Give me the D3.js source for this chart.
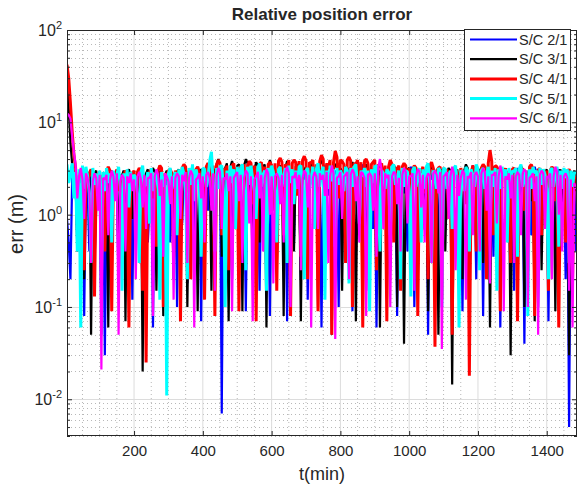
<!DOCTYPE html>
<html>
<head>
<meta charset="utf-8">
<script src="https://cdn.jsdelivr.net/npm/d3@7"></script>
<style>
  body { margin: 0; background: #fff; }
  text { font-family: "Liberation Sans", Arial, Helvetica, sans-serif; fill: #262626; }
</style>
</head>
<body>
<svg id="chart" width="579" height="488"></svg>
<script>
// sample times (min), one sample every 5 min
var times = d3.range(5, 1490, 5);

var seriesNames = ["S/C 2/1", "S/C 3/1", "S/C 4/1", "S/C 5/1", "S/C 6/1"];
var seriesColors = ["#0000ff", "#000000", "#ff0000", "#00ffff", "#ff00ff"];
var seriesWidths = [2.2, 2.2, 3, 3, 2.2];

// error values (m), one row per 100 min
var err21 = [
  0.9, 0.5, 0.2, 2.4, 3, 1.9, 0.6, 2.8, 2.2, 2.6, 0.08, 2.3, 1.8, 0.4, 2.5, 2.9, 0.3, 1.2, 2, 2.7,
  0.05, 2.6, 0.03, 1.5, 2.4, 2.9, 0.7, 2.2, 2.8, 2.5, 0.15, 2.7, 2.2, 3, 0.4, 1.9, 2.6, 2.8, 0.12, 2.4,
  2.5, 2.8, 0.9, 2.1, 0.09, 2.6, 2.7, 0.5, 1.2, 2.9, 0.06, 2.2, 2.4, 1.4, 3, 2.7, 0.25, 2.5, 2.1, 2.8,
  0.5, 2.3, 2.6, 2.9, 0.1, 2.4, 1.8, 0.8, 2.9, 2.6, 0.18, 3.1, 2.5, 2.2, 0.6, 2.7, 2.8, 2.5, 0.07, 2.6,
  2.3, 3, 1.1, 2.5, 3.2, 2.8, 0.3, 2.4, 2.6, 3.1, 0.007, 2.7, 2.8, 0.9, 1.5, 2.6, 0.2, 2.4, 3, 2.7,
  0.4, 2.9, 2.7, 2.5, 0.09, 2.8, 2.4, 3.3, 3.1, 2.2, 0.6, 2.7, 0.15, 2.5, 2.9, 0.7, 1.8, 2.6, 0.08, 2.9,
  2.6, 2.9, 0.3, 2.7, 3.3, 2.5, 1.2, 2.8, 0.07, 2.6, 2.8, 1.9, 0.5, 2.7, 3, 2.4, 0.2, 2.9, 2.4, 3.1,
  0.12, 2.8, 3.1, 2.6, 0.9, 3, 2.7, 2.9, 0.06, 2.5, 3.4, 2.8, 1.6, 2.9, 0.35, 2.6, 3, 2.7, 0.1, 3.2,
  2.8, 3, 0.5, 2.6, 3.2, 2.7, 0.09, 2.9, 2.4, 0.8, 1.3, 2.7, 3.5, 3.1, 0.15, 2.6, 2.9, 2.5, 0.7, 2.8,
  0.06, 2.7, 3, 2.4, 1.1, 2.9, 2.6, 2.8, 0.25, 2.7, 3.2, 2.5, 0.08, 2.9, 2.5, 3.1, 1.7, 2.6, 0.4, 2.8,
  3.3, 2.9, 0.1, 2.6, 2.7, 3.1, 0.8, 2.5, 3, 2.8, 0.05, 2.7, 2.4, 3.2, 1.9, 2.6, 0.3, 2.8, 3.1, 2.5,
  0.7, 2.7, 2.8, 3, 0.12, 2.6, 3.2, 2.4, 1.4, 2.8, 0.09, 2.5, 2.9, 2.2, 0.5, 2.9, 3.4, 2.7, 0.2, 2.8,
  2.6, 2.9, 0.08, 2.7, 3.1, 2.5, 1.2, 2.8, 0.35, 2.6, 2.8, 3, 0.06, 2.7, 3, 2.4, 0.9, 2.8, 2.5, 2.9,
  0.15, 2.6, 3.2, 2.8, 1.6, 2.5, 0.04, 2.7, 2.7, 2.9, 0.6, 2.6, 3.3, 2.8, 0.1, 2.5, 2.4, 2.9, 1.1, 2.7,
  0.07, 2.6, 2.9, 2.5, 0.3, 2.8, 3.1, 2.4, 1.5, 2.7, 0.2, 2.3, 0.005, 2.1, 2.2, 2.6, 0.4
];
var err31 = [
  27, 14, 6, 3.5, 2.5, 2.8, 0.4, 2.6, 3, 2.7, 0.2, 2.5, 2.4, 2.9, 0.05, 2.6, 2.8, 3, 1.2, 2.7,
  0.1, 2.5, 2.6, 2.9, 0.06, 2.7, 3, 2.4, 1.5, 2.8, 0.3, 2.6, 2.7, 3, 0.07, 2.8, 3.1, 2.6, 0.9, 2.7,
  2.5, 2.9, 0.4, 2.7, 0.02, 2.6, 2.8, 3.1, 1.1, 2.7, 3.2, 2.9, 0.15, 2.6, 2.6, 2.8, 0.08, 2.7, 3, 2.5,
  1.3, 2.8, 0.2, 2.6, 2.9, 3.1, 0.5, 2.8, 3.3, 2.9, 0.1, 2.7, 2.4, 3, 1.7, 2.6, 0.09, 2.9, 3.1, 2.8,
  0.6, 3.2, 3.6, 3.3, 0.15, 3.1, 2.8, 3.5, 4, 3.4, 0.35, 3, 3.2, 3.6, 0.07, 3.3, 3.8, 3.2, 1.4, 3.4,
  3.5, 3.2, 0.09, 3.4, 4, 3.6, 1.1, 3.3, 0.2, 3.1, 3.7, 3.4, 0.5, 3.2, 3.3, 3.5, 0.06, 3.3, 3.9, 3.4,
  1.5, 3.1, 0.25, 3.3, 3.4, 3, 0.08, 3.2, 3.8, 3.4, 1, 3.1, 0.4, 3.3, 3.5, 3.2, 0.07, 3, 3.1, 3.3,
  0.3, 3.2, 3.6, 3.3, 1.3, 3, 0.1, 3.4, 3.9, 3.5, 0.6, 3.1, 3.2, 3.3, 0.05, 3.1, 3.4, 3.6, 1.8, 3.2,
  0.15, 3.1, 3.3, 3, 0.5, 3.2, 3.7, 3.3, 0.07, 3.1, 2.9, 3.2, 1.2, 3, 3.5, 3.3, 0.2, 3.1, 3, 3.2,
  0.8, 3, 0.06, 2.9, 3.2, 3, 1.6, 3.1, 0.3, 3.2, 3.5, 3.1, 0.1, 2.9, 2.8, 3, 0.04, 2.8, 3.1, 3.2,
  1.4, 3, 3.3, 3.1, 0.2, 2.8, 2.9, 3.1, 0.7, 3, 0.09, 2.9, 3.4, 3.1, 1.1, 3, 0.05, 2.8, 3, 3.2,
  0.4, 2.9, 3.2, 3, 0.0145, 2.8, 2.7, 3.1, 1.5, 2.9, 0.2, 3, 3.5, 3.2, 0.08, 2.9, 2.9, 3.1, 1.2, 2.8,
  3.1, 2.8, 0.3, 2.7, 2.6, 3, 0.06, 2.9, 3.3, 3.1, 0.9, 2.8, 0.15, 2.7, 2.8, 3, 1.3, 2.9, 0.03, 2.7,
  2.9, 3.1, 0.5, 2.8, 3.4, 3, 0.1, 2.9, 2.7, 3.2, 1.4, 2.9, 0.07, 2.8, 3.1, 3, 0.25, 2.9, 2.8, 3.1,
  0.6, 2.9, 3.2, 3, 0.09, 2.8, 2.5, 3.1, 1.1, 2.9, 3, 2.8, 0.03, 2.7, 2.7, 3, 1.8
];
var err41 = [
  42, 30, 16, 8, 4.5, 3.2, 0.7, 2.6, 2.8, 2.4, 0.25, 2.3, 2.2, 2.8, 3.1, 2.5, 0.13, 2.7, 2.5, 2.9,
  1.2, 2.7, 0.4, 2.9, 3.3, 3, 0.09, 2.8, 2.6, 3.1, 1.8, 2.7, 0.3, 2.6, 3, 2.8, 0.06, 2.5, 2.7, 3,
  0.8, 2.9, 3.2, 3, 0.15, 2.6, 0.025, 2.7, 2.9, 3.1, 1.5, 2.8, 0.45, 3, 3.4, 3.2, 0.1, 2.8, 2.5, 3,
  3.1, 2.8, 0.35, 3, 2.6, 2.9, 0.07, 3.2, 3.5, 3.3, 1.2, 3, 0.2, 2.8, 2.8, 3.1, 3.3, 2.9, 0.5, 3.2,
  0.12, 3.3, 3.6, 3.2, 1.4, 3.4, 0.08, 3.5, 3.9, 3.6, 0.6, 3.2, 2.7, 3.4, 0.25, 3.1, 3.4, 3.6, 1.9, 3.3,
  0.09, 3.4, 3.2, 3.5, 0.5, 3.3, 3.8, 3.6, 1.3, 3.4, 0.07, 3.2, 3.5, 3.7, 2.4, 3.3, 0.3, 3.5, 3.7, 3.4,
  1.1, 3.6, 0.15, 3.8, 4.1, 3.7, 0.6, 3.5, 3.3, 3.9, 0.08, 3.6, 3.9, 3.7, 1.6, 3.8, 0.35, 3.9, 4.3, 3.8,
  0.2, 3.7, 3.6, 3.9, 1.2, 3.5, 0.09, 3.8, 4.4, 4, 0.7, 3.6, 3.2, 3.9, 0.05, 3.7, 4.9, 4.2, 1.5, 3.9,
  3.8, 3.5, 0.3, 3.9, 4.2, 3.8, 0.1, 3.6, 3.5, 3.9, 1.9, 3.7, 0.06, 3.8, 4, 3.6, 0.8, 3.5, 3.7, 3.9,
  0.25, 3.5, 3.3, 3.6, 1.4, 3.4, 0.07, 3.3, 3.9, 3.5, 0.5, 3.2, 3.1, 3.4, 0.15, 3.3, 3.6, 3.4, 1.1, 3.2,
  0.4, 3.1, 3.4, 3.2, 0.08, 3, 2.9, 3.3, 1.7, 3.1, 0.2, 3.4, 3.7, 3.2, 0.037, 3, 3.2, 3.3, 0.12, 3,
  2.8, 3.1, 0.9, 2.9, 0.05, 3, 3.1, 2.8, 0.3, 3.2, 2.6, 3, 1.3, 2.9, 0.018, 2.7, 3.4, 3.1, 0.4, 3,
  1.2, 3.2, 3.5, 3.3, 0.2, 3.6, 5, 3.8, 0.6, 3.4, 3.3, 3, 0.09, 2.9, 2.7, 3.2, 1.5, 3, 0.3, 3.1,
  3.2, 2.9, 0.07, 3.1, 2.9, 3.2, 1.1, 3, 0.25, 3.3, 3.5, 3.1, 0.08, 2.8, 3, 3.2, 0.6, 2.9, 2.6, 3,
  0.15, 3, 3.3, 3.1, 1.4, 2.9, 0.06, 2.7, 2.8, 3, 0.5, 2.9, 3.1, 2.8, 0.2, 2.6, 2.4
];
var err51 = [
  3.5, 2.2, 2.8, 3.6, 1.5, 2.9, 0.4, 3.1, 0.06, 3.4, 1.9, 3.3, 2.6, 1.7, 0.3, 3.2, 2.1, 2.8, 1.6, 3,
  0.2, 2.9, 1.8, 3.2, 2.2, 2.8, 0.5, 3, 1.7, 2.7, 3.3, 2, 0.15, 2.8, 1.9, 3.1, 1.2, 2.9, 2, 2.7,
  2.5, 1.7, 0.3, 2.9, 3.4, 2, 2.2, 2.9, 0.8, 3.2, 1.8, 2.8, 2.7, 1.9, 0.12, 2.9, 2, 2.6, 0.011, 2.8,
  3.2, 1.9, 2.4, 2.9, 0.6, 3.1, 1.8, 3.3, 2.8, 1.7, 0.2, 3.2, 2.1, 3.5, 1.4, 3.1, 2.6, 1.8, 0.35, 3.2,
  3.1, 2, 2.5, 3.8, 4.8, 2.2, 0.4, 3.2, 1.9, 3.3, 3.4, 1.8, 0.1, 3, 2.1, 3.4, 2.2, 3.1, 0.7, 3.3,
  2, 3.2, 3.5, 1.9, 0.25, 3.3, 2.1, 3.4, 2.4, 1.8, 0.9, 3.2, 3.6, 2, 2.7, 3, 0.15, 3.2, 1.9, 3.4,
  2.9, 1.8, 0.5, 3.1, 3.3, 2, 2.6, 3.2, 0.3, 3.4, 2.2, 3.1, 1.3, 3, 1.9, 3.3, 3.4, 2, 0.2, 3,
  3.2, 1.9, 2.5, 3.3, 0.7, 3.1, 3.6, 2, 2.9, 3.3, 0.12, 3, 1.9, 3.4, 2.3, 3.1, 0.45, 3.2, 2.1, 3,
  2.7, 1.8, 3.3, 3, 0.18, 3.2, 2, 3.3, 3.5, 1.9, 0.8, 3, 2.6, 3.2, 2, 3, 0.09, 3.1, 2.2, 3.3,
  3.4, 2, 0.4, 3, 2.8, 1.9, 3.1, 2.9, 0.6, 3.3, 3.5, 2.1, 2.4, 3, 0.2, 3.2, 2, 3, 2.9, 1.8,
  0.13, 3, 3.3, 2, 2.7, 3.2, 0.5, 3.1, 1.9, 3.3, 3.6, 2.1, 0.3, 3, 2.8, 1.9, 3.2, 3, 0.1, 3.2,
  3.1, 1.9, 2.6, 3, 0.7, 3.2, 3.4, 2, 0.06, 3, 2.9, 1.8, 3.3, 3, 0.4, 3.1, 2.7, 2, 3.5, 3.1,
  0.25, 3, 3.2, 1.9, 2.8, 3.3, 0.9, 3, 2, 3.2, 0.15, 3.1, 1.9, 3.3, 2.5, 3.1, 0.5, 3.2, 2.1, 3,
  2.9, 3.2, 0.35, 3.1, 3.5, 2, 2.6, 3, 0.08, 3.1, 1.9, 3.3, 2.8, 3, 0.6, 3.2, 2.1, 3.1, 2.7, 1.9,
  0.2, 3, 3.2, 2, 2.9, 3.3, 0.45, 3, 1.9, 3.2, 2.5, 3.1, 0.3, 3, 2, 2.9, 2.8
];
var err61 = [
  12.5, 12, 11, 7, 4.8, 3.5, 1.5, 2.6, 3.2, 2.4, 0.9, 2.8, 2.5, 1.8, 0.3, 2.3, 2.8, 2.5, 1.1, 2.7,
  0.021, 2.5, 2.4, 2.7, 0.6, 2.4, 3, 2.6, 1.4, 2.8, 0.05, 2.3, 2.7, 2.5, 0.4, 2.6, 2.2, 2.8, 1.8, 2.4,
  0.2, 2.6, 2.9, 2.4, 1.2, 2.7, 0.7, 2.5, 2.5, 2.8, 0.08, 2.6, 3.1, 2.7, 1.6, 2.4, 0.35, 2.8, 2.6, 2.3,
  1.3, 2.6, 0.12, 2.5, 2.8, 2.6, 0.9, 2.7, 2.3, 2.9, 0.3, 2.5, 3, 2.7, 0.06, 2.4, 2.5, 2.8, 1.5, 2.6,
  0.5, 2.7, 2.9, 2.5, 1.1, 2.8, 0.15, 2.6, 3.2, 2.9, 0.7, 2.5, 2.4, 2.8, 1.8, 2.6, 0.09, 2.5, 2.7, 2.9,
  1.4, 2.7, 0.3, 2.5, 3, 2.8, 0.8, 2.6, 0.07, 2.4, 2.6, 2.9, 1.5, 2.7, 0.4, 2.5, 3.1, 2.8, 1, 2.6,
  0.18, 2.6, 2.8, 2.5, 1.3, 2.7, 0.5, 2.9, 3.3, 2.8, 0.1, 2.6, 2.5, 2.9, 1.9, 2.7, 0.25, 2.5, 3, 2.8,
  1.2, 2.7, 0.06, 2.5, 2.9, 2.6, 0.7, 2.8, 2.4, 2.7, 1.6, 2.9, 0.3, 2.6, 3.4, 2.8, 0.045, 2.5, 2.6, 2.9,
  0.9, 2.6, 2.7, 2.9, 0.2, 2.7, 3.1, 2.8, 1.4, 2.6, 0.5, 2.9, 2.8, 2.5, 0.08, 2.7, 2.8, 2.6, 1.1, 2.8,
  0.35, 3.2, 4, 3, 0.7, 2.8, 2.5, 2.7, 0.1, 2.6, 2.9, 2.8, 1.3, 2.5, 0.4, 2.7, 3.2, 2.9, 0.8, 2.6,
  2.6, 2.8, 0.15, 2.6, 3.1, 2.9, 1.2, 2.7, 0.5, 2.5, 2.8, 2.6, 0.3, 2.8, 3, 2.7, 1.7, 2.9, 0.035, 2.6,
  2.7, 2.9, 0.9, 2.6, 3.3, 2.8, 0.25, 2.7, 1.6, 2.5, 3, 2.8, 0.12, 2.6, 2.5, 2.9, 0.6, 2.7, 2.9, 2.6,
  0.4, 2.8, 3.2, 2.9, 1.1, 2.6, 0.18, 2.7, 2.7, 2.9, 0.8, 2.6, 3.4, 2.8, 0.09, 2.6, 2.4, 2.8, 1.5, 2.7,
  0.3, 2.6, 2.9, 2.7, 0.6, 2.8, 3.1, 2.9, 0.1, 2.5, 2.6, 2.8, 1.4, 2.6, 0.05, 2.7, 3, 2.8, 0.7, 2.6,
  2.5, 2.8, 0.2, 2.6, 3.3, 2.9, 1, 2.7, 0.4, 2.6, 2.8, 2.5, 0.15, 2.4, 0.06, 2.2, 1.9
];
var allSeries = [err21, err31, err41, err51, err61];

var xTicks = [200, 400, 600, 800, 1000, 1200, 1400];
var yTicks = [0.01, 0.1, 1, 10, 100];
var yExps = ["-2", "-1", "0", "1", "2"];

var svg = d3.select("#chart");
var plot = {left: 67, right: 577, top: 30, bottom: 436};

var x = d3.scaleLinear().domain([5, 1488]).range([plot.left, plot.right]);
var y = d3.scaleLog().domain([0.004, 100]).range([plot.bottom, plot.top]);

// minor ticks
var xMinor = d3.range(50, 1488, 50).filter(function(v){ return v % 200 != 0; });
var yMinor = [];
[-3, -2, -1, 0, 1].forEach(function(e){
  for (var k = 2; k <= 9; k++) {
    var v = k * Math.pow(10, e);
    if (v >= 0.004 && v <= 100) yMinor.push(v);
  }
});

svg.append("rect").attr("x", plot.left).attr("y", plot.top)
  .attr("width", plot.right - plot.left).attr("height", plot.bottom - plot.top)
  .attr("fill", "#fff");

// grid
var grid = svg.append("g");
grid.selectAll(".xminor").data(xMinor).enter().append("line")
  .attr("x1", x).attr("x2", x).attr("y1", plot.top).attr("y2", plot.bottom)
  .attr("stroke", "#b8b8b8").attr("stroke-width", 1).attr("stroke-dasharray", "1,3");
grid.selectAll(".yminor").data(yMinor).enter().append("line")
  .attr("y1", function(d){ return Math.round(y(d)) + 0.5; })
  .attr("y2", function(d){ return Math.round(y(d)) + 0.5; })
  .attr("x1", plot.left).attr("x2", plot.right)
  .attr("stroke", "#b8b8b8").attr("stroke-width", 1).attr("stroke-dasharray", "1,3");
grid.selectAll(".xmajor").data(xTicks).enter().append("line")
  .attr("x1", x).attr("x2", x).attr("y1", plot.top).attr("y2", plot.bottom)
  .attr("stroke", "#dcdcdc").attr("stroke-width", 1);
grid.selectAll(".ymajor").data(yTicks).enter().append("line")
  .attr("y1", function(d){ return Math.round(y(d)) + 0.5; })
  .attr("y2", function(d){ return Math.round(y(d)) + 0.5; })
  .attr("x1", plot.left).attr("x2", plot.right)
  .attr("stroke", "#dcdcdc").attr("stroke-width", 1);

// data
svg.append("clipPath").attr("id", "clip").append("rect")
  .attr("x", plot.left).attr("y", plot.top)
  .attr("width", plot.right - plot.left).attr("height", plot.bottom - plot.top);

var line = d3.line()
  .x(function(d, i){ return x(times[i]); })
  .y(function(d){ return y(d); });

svg.append("g").attr("clip-path", "url(#clip)")
  .selectAll("path").data(allSeries).enter().append("path")
  .attr("d", line)
  .attr("fill", "none")
  .attr("stroke", function(d, i){ return seriesColors[i]; })
  .attr("stroke-width", function(d, i){ return seriesWidths[i]; })
  .attr("stroke-linejoin", "bevel");

// axes (ticks point inward, MATLAB style)
var axisColor = "#262626";
function styleAxis(g){
  g.select(".domain").remove();
  g.selectAll("line").attr("stroke", axisColor);
}
svg.append("g").attr("transform", "translate(0," + plot.bottom + ")")
  .call(d3.axisBottom(x).tickValues(xTicks).tickSize(-5).tickPadding(9).tickFormat(d3.format("d")))
  .call(styleAxis)
  .selectAll("text").attr("font-size", "15px").attr("fill", axisColor)
  .attr("font-family", "Liberation Sans, Arial, sans-serif");
svg.append("g").attr("transform", "translate(0," + plot.top + ")")
  .call(d3.axisTop(x).tickValues(xTicks).tickSize(-5).tickFormat(""))
  .call(styleAxis);

svg.append("g").attr("transform", "translate(" + plot.left + ",0)")
  .call(d3.axisLeft(y).tickValues(yTicks).tickSize(-5).tickFormat(""))
  .call(styleAxis);
svg.append("g").attr("transform", "translate(" + plot.left + ",0)")
  .call(d3.axisLeft(y).tickValues(yMinor).tickSize(-3).tickFormat(""))
  .call(styleAxis);
svg.append("g").attr("transform", "translate(" + plot.right + ",0)")
  .call(d3.axisRight(y).tickValues(yTicks).tickSize(-5).tickFormat(""))
  .call(styleAxis);
svg.append("g").attr("transform", "translate(" + plot.right + ",0)")
  .call(d3.axisRight(y).tickValues(yMinor).tickSize(-3).tickFormat(""))
  .call(styleAxis);

// y tick labels as 10^n
var yLab = svg.append("g").selectAll("text").data(yTicks).enter().append("text")
  .attr("x", plot.left - 5)
  .attr("y", function(d){ return y(d) + 6; })
  .attr("text-anchor", "end")
  .attr("font-size", "16px");
yLab.append("tspan").text("10");
yLab.append("tspan").attr("dy", -7).attr("font-size", "11px")
  .text(function(d, i){ return yExps[i]; });

// box
svg.append("rect").attr("x", plot.left + 0.5).attr("y", plot.top + 0.5)
  .attr("width", plot.right - plot.left - 1).attr("height", plot.bottom - plot.top - 1)
  .attr("fill", "none").attr("stroke", axisColor).attr("stroke-width", 1);

// titles
svg.append("text").attr("x", 322).attr("y", 20).attr("text-anchor", "middle")
  .attr("font-size", "17px").attr("font-weight", "bold").attr("fill", "#000")
  .text("Relative position error");
svg.append("text").attr("x", 322).attr("y", 480).attr("text-anchor", "middle")
  .attr("font-size", "18px").text("t(min)");
svg.append("text").attr("transform", "translate(23,224) rotate(-90)")
  .attr("text-anchor", "middle").attr("font-size", "20px").text("err (m)");

// legend
var legend = svg.append("g").attr("transform", "translate(464,29)");
legend.append("rect").attr("x", 0.5).attr("y", 0.5).attr("width", 106).attr("height", 101)
  .attr("fill", "#fff").attr("stroke", axisColor).attr("stroke-width", 1);
var entry = legend.selectAll(".entry").data(seriesNames).enter().append("g")
  .attr("transform", function(d, i){ return "translate(0," + (10.5 + i * 19.7) + ")"; });
entry.append("line").attr("x1", 6).attr("x2", 53).attr("y1", 0).attr("y2", 0)
  .attr("stroke", function(d, i){ return seriesColors[i]; })
  .attr("stroke-width", function(d, i){ return seriesWidths[i]; });
entry.append("text").attr("x", 55).attr("y", 5).attr("font-size", "14.5px")
  .attr("fill", "#000").text(function(d){ return d; });
</script>
</body>
</html>
